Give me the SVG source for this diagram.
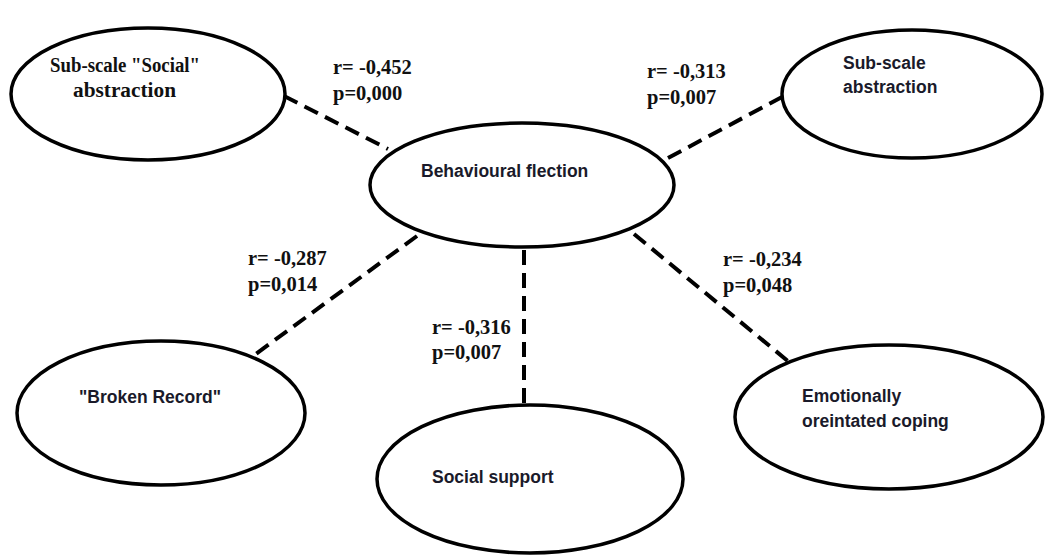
<svg xmlns="http://www.w3.org/2000/svg" width="1047" height="556" viewBox="0 0 1047 556">
<style>
.node{fill:#fff;stroke:#000;stroke-width:3.5}
.lbl{font-family:"Liberation Sans",Arial,sans-serif;font-weight:bold;font-size:17.5px;fill:#1a1a2a}
.ser{font-family:"Liberation Serif","Times New Roman",serif;font-weight:bold;font-size:20.5px;fill:#111}
.edge{stroke:#000;stroke-width:4;stroke-dasharray:15 8;fill:none}
</style>
<rect width="1047" height="556" fill="#fff"/>
<g id="connectors">
<line class="edge" x1="284" y1="96" x2="388" y2="149"/>
<line class="edge" x1="668" y1="158" x2="782" y2="97"/>
<line class="edge" x1="417" y1="236" x2="253" y2="356"/>
<line class="edge" x1="524" y1="250" x2="524" y2="408"/>
<line class="edge" x1="634" y1="234" x2="789" y2="362"/>
</g>
<g id="edge-labels">
<text class="ser" x="333" y="74">r= -0,452</text>
<text class="ser" x="333" y="100">p=0,000</text>
<text class="ser" x="647" y="78">r= -0,313</text>
<text class="ser" x="647" y="104">p=0,007</text>
<text class="ser" x="248" y="265">r= -0,287</text>
<text class="ser" x="248" y="291">p=0,014</text>
<text class="ser" x="432" y="334">r= -0,316</text>
<text class="ser" x="432" y="359">p=0,007</text>
<text class="ser" x="723" y="266">r= -0,234</text>
<text class="ser" x="723" y="292">p=0,048</text>
</g>
<g id="node-social-abstraction">
<ellipse class="node" cx="148" cy="94" rx="137" ry="66"/>
<text class="ser" x="50" y="72" textLength="150" lengthAdjust="spacingAndGlyphs">Sub-scale "Social"</text>
<text class="ser" x="73" y="97" textLength="103" lengthAdjust="spacingAndGlyphs">abstraction</text>
</g>
<g id="node-subscale-abstraction">
<ellipse class="node" cx="912" cy="94" rx="130" ry="64"/>
<text class="lbl" x="843" y="69">Sub-scale</text>
<text class="lbl" x="843" y="93">abstraction</text>
</g>
<g id="node-behavioural">
<ellipse class="node" cx="522" cy="185" rx="152" ry="62"/>
<text class="lbl" x="421" y="177">Behavioural flection</text>
</g>
<g id="node-broken-record">
<ellipse class="node" cx="161" cy="413" rx="144" ry="72"/>
<text class="lbl" x="79" y="403">"Broken Record"</text>
</g>
<g id="node-social-support">
<ellipse class="node" cx="530" cy="479" rx="153" ry="74"/>
<text class="lbl" x="432" y="483">Social support</text>
</g>
<g id="node-emotional">
<ellipse class="node" cx="889" cy="417" rx="154" ry="72"/>
<text class="lbl" x="802" y="402">Emotionally</text>
<text class="lbl" x="802" y="427">oreintated coping</text>
</g>
</svg>
